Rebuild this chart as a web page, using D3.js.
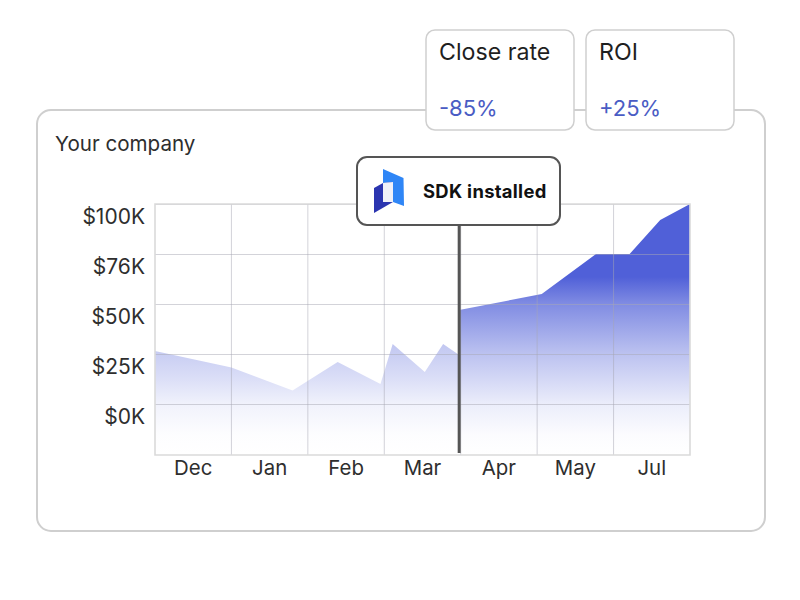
<!DOCTYPE html>
<html>
<head>
<meta charset="utf-8">
<script src="https://cdn.jsdelivr.net/npm/d3@7"></script>
<style>
  html, body { margin: 0; padding: 0; background: #fff; }
  svg { display: block; font-family: Inter, sans-serif; }
</style>
</head>
<body>
<svg id="chart" width="800" height="600"></svg>
<script>
// Monthly columns along the bottom axis
const months = ["Dec", "Jan", "Feb", "Mar", "Apr", "May", "Jul"];
// Revenue ticks, $K, top to bottom
const valueTicks = [100, 76, 50, 25, 0];
const tickLabels = ["$100K", "$76K", "$50K", "$25K", "$0K"];
// Revenue before and after the install, as [month position, $K]
const beforeSeries = [[0, 26.5], [1, 18.2], [1.80, 6.7], [2.39, 21], [2.95, 10], [3.11, 30], [3.53, 16], [3.77, 30], [3.98, 24.5]];
const afterSeries = [[3.98, 47], [5.06, 55.2], [5.77, 76], [6.21, 76], [6.61, 92.3], [7, 100]];
// Headline cards
const cardNames = ["Close rate", "ROI"];
const cardValues = ["-85%", "+25%"];
const installMonth = 3.98;

const svg = d3.select("#chart");
const plotLeft = 155, plotRight = 690, plotTop = 204, plotBottom = 455;

const x = d3.scaleLinear().domain([0, months.length]).range([plotLeft, plotRight]);
const xBand = d3.scaleBand().domain(months).range([plotLeft, plotRight]);
// The tick rows are evenly spaced although the values are not, so the scale is piecewise
const y = d3.scaleLinear().domain([-25, 0, 25, 50, 76, 100]).range([plotBottom, 404, 354, 304, 254, plotTop]);

// Gradients are anchored to the plot so both regions fade towards the same baseline
const defs = svg.append("defs");
function fade(id, stops) {
  const g = defs.append("linearGradient").attr("id", id)
    .attr("gradientUnits", "userSpaceOnUse")
    .attr("x1", 0).attr("x2", 0).attr("y1", plotTop).attr("y2", plotBottom);
  stops.forEach(s => g.append("stop").attr("offset", s[0]).attr("stop-color", "#5060d8").attr("stop-opacity", s[1]));
}
fade("fadeBefore", [[0.55, 0.36], [0.7, 0.2], [0.8, 0.08], [0.92, 0.012], [1, 0]]);
fade("fadeAfter", [[0.29, 1], [0.4, 0.72], [0.6, 0.38], [0.8, 0.11], [0.92, 0.02], [1, 0]]);

// Outer panel
svg.append("rect").attr("x", 37).attr("y", 110).attr("width", 728).attr("height", 421)
  .attr("rx", 14).attr("fill", "#fff").attr("stroke", "#cfcfcf").attr("stroke-width", 2);
svg.append("text").attr("x", 55).attr("y", 151).attr("font-size", 20.6).attr("fill", "#2e2e2e").text("Your company");

// Area regions sit under the grid
const area = d3.area().x(d => x(d[0])).y0(plotBottom).y1(d => y(d[1]));
svg.append("path").datum(beforeSeries).attr("d", area).attr("fill", "url(#fadeBefore)");
svg.append("path").datum(afterSeries).attr("d", area).attr("fill", "url(#fadeAfter)");

// Grid and frame
const grid = svg.append("g").attr("stroke", "#a8a8b4").attr("stroke-opacity", 0.5).attr("stroke-width", 1);
grid.selectAll("line.h").data(valueTicks).join("line").attr("class", "h")
  .attr("x1", plotLeft).attr("x2", plotRight).attr("y1", d => y(d) + 0.5).attr("y2", d => y(d) + 0.5);
grid.selectAll("line.v").data(d3.range(1, months.length)).join("line").attr("class", "v")
  .attr("x1", d => x(d)).attr("x2", d => x(d)).attr("y1", plotTop).attr("y2", plotBottom);
const frame = d3.path();
frame.moveTo(plotLeft, plotTop); frame.lineTo(plotRight, plotTop); frame.lineTo(plotRight, plotBottom); frame.lineTo(plotLeft, plotBottom); frame.closePath();
svg.append("path").attr("d", frame.toString()).attr("fill", "none").attr("stroke", "#dadada").attr("stroke-width", 1.6);

// Axis labels: value labels sit just below their grid rows
svg.selectAll("text.yl").data(valueTicks).join("text").attr("class", "yl")
  .attr("x", 145).attr("y", d => y(d) + 20).attr("text-anchor", "end")
  .attr("font-size", 21).attr("fill", "#2e2e2e").text((d, i) => tickLabels[i]);
svg.selectAll("text.xl").data(months).join("text").attr("class", "xl")
  .attr("x", d => xBand(d) + xBand.bandwidth() / 2).attr("y", 475).attr("text-anchor", "middle")
  .attr("font-size", 20.4).attr("fill", "#2e2e2e").text(d => d);

// Install marker
svg.append("line").attr("x1", x(installMonth)).attr("x2", x(installMonth)).attr("y1", 225).attr("y2", 453)
  .attr("stroke", "#555").attr("stroke-width", 3);
svg.append("rect").attr("x", 357).attr("y", 157).attr("width", 203).attr("height", 68).attr("rx", 10)
  .attr("fill", "#fff").attr("stroke", "#555").attr("stroke-width", 2);
const logo = svg.append("g");
logo.append("path").attr("d", "M383 169 L403.5 178 L404 206 L393 202 L393 182 L383 183 Z").attr("fill", "#2f86f6");
logo.append("path").attr("d", "M374 188 L383 183 L393 182 L393 202 L374 213 Z").attr("fill", "#2b35b0");
logo.append("path").attr("d", "M383 183 L393 182 L393 202 L383 202 Z").attr("fill", "#f0f1f8");
svg.append("text").attr("x", 423).attr("y", 198).attr("font-size", 18.4).attr("font-weight", 700)
  .attr("letter-spacing", 0.3).attr("fill", "#111").text("SDK installed");

// Headline cards overlap the panel border
const cards = svg.selectAll("g.card").data(cardNames).join("g").attr("class", "card")
  .attr("transform", (d, i) => `translate(${426 + i * 160},30)`);
cards.append("rect").attr("width", 148).attr("height", 100).attr("rx", 9)
  .attr("fill", "#fff").attr("stroke", "#cfcfcf").attr("stroke-width", 1.5);
cards.append("text").attr("x", 13).attr("y", 30).attr("font-size", 23.2).attr("fill", "#1f1f1f").text(d => d);
cards.append("text").attr("x", 13).attr("y", 86).attr("font-size", 22).attr("fill", "#4a5cc4").text((d, i) => cardValues[i]);
</script>
</body>
</html>
